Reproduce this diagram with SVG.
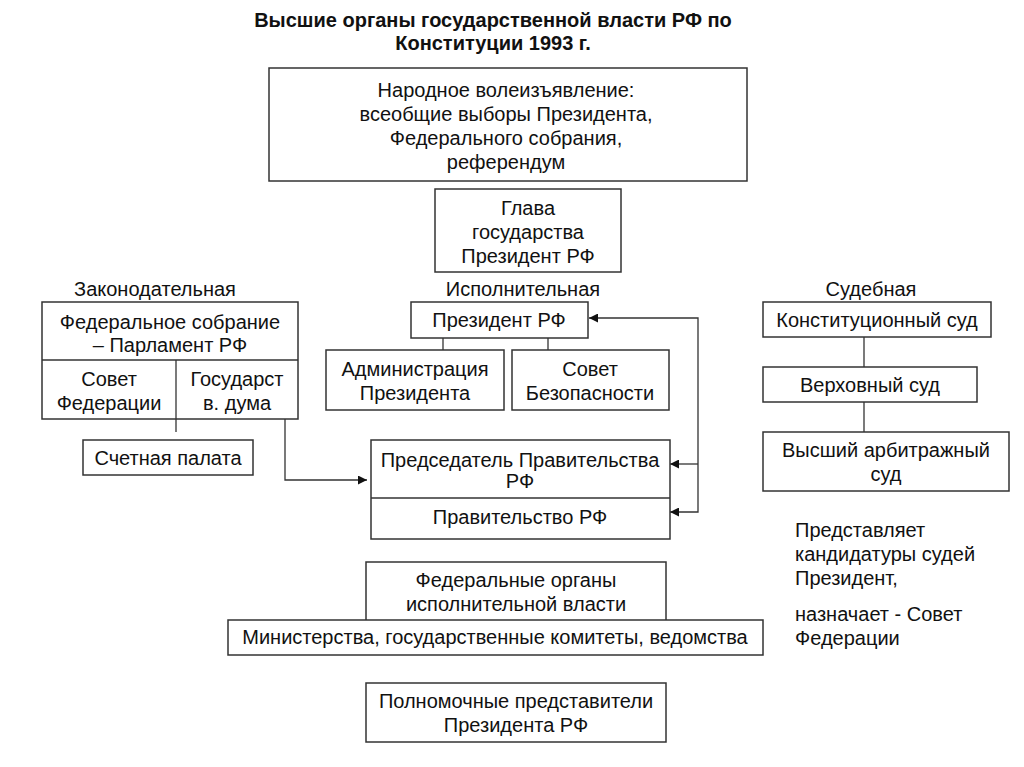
<svg xmlns="http://www.w3.org/2000/svg" width="1024" height="767" viewBox="0 0 1024 767">
<defs>
<style>
.b{fill:#fff;stroke:#333;stroke-width:1.5}
.t{font-family:"Liberation Sans",Arial,sans-serif;font-size:20px;fill:#111;text-anchor:middle}
.l{font-family:"Liberation Sans",Arial,sans-serif;font-size:20px;fill:#111}
.h{font-family:"Liberation Sans",Arial,sans-serif;font-size:20px;font-weight:bold;fill:#111;text-anchor:middle}
.c{fill:none;stroke:#333;stroke-width:1.3}
</style>
<marker id="a" viewBox="0 0 10 10" refX="10" refY="5" markerWidth="9" markerHeight="9" markerUnits="userSpaceOnUse" orient="auto"><path d="M0,0L10,5L0,10z" fill="#111"/></marker>
</defs>
<rect width="1024" height="767" fill="#fff"/>
<g id="title">
<text class="h" x="493" y="27">Высшие органы государственной власти РФ по</text>
<text class="h" x="493" y="50">Конституции 1993 г.</text>
</g>
<g id="connectors">
<line class="c" x1="176" y1="360" x2="176" y2="432"/>
<path class="c" d="M285,418V480H367" marker-end="url(#a)"/>
<line class="c" x1="443" y1="338" x2="443" y2="350"/>
<line class="c" x1="548" y1="338" x2="548" y2="350"/>
<path class="c" d="M698,464V318H589" marker-end="url(#a)"/>
<path class="c" d="M698,464H670" marker-end="url(#a)"/>
<path class="c" d="M698,464V512H670" marker-end="url(#a)"/>
<line class="c" x1="864" y1="337" x2="864" y2="367"/>
<line class="c" x1="864" y1="402" x2="864" y2="432"/>
</g>
<g id="vote">
<rect class="b" x="269" y="68" width="478" height="113"/>
<text class="t" x="506" y="97">Народное волеизъявление:</text>
<text class="t" x="506" y="121">всеобщие выборы Президента,</text>
<text class="t" x="506" y="145">Федерального собрания,</text>
<text class="t" x="506" y="169">референдум</text>
</g>
<g id="head">
<rect class="b" x="435" y="189" width="186" height="83"/>
<text class="t" x="528" y="215">Глава</text>
<text class="t" x="528" y="239">государства</text>
<text class="t" x="528" y="263">Президент РФ</text>
</g>
<g id="labels">
<text class="t" x="155" y="296">Законодательная</text>
<text class="t" x="523" y="296">Исполнительная</text>
<text class="t" x="871" y="296">Судебная</text>
</g>
<g id="parliament">
<rect class="b" x="42" y="302" width="256" height="117"/>
<line class="c" x1="42" y1="360" x2="298" y2="360"/>
<line class="c" x1="176" y1="360" x2="176" y2="419"/>
<text class="t" x="170" y="329">Федеральное собрание</text>
<text class="t" x="170" y="352">– Парламент РФ</text>
<text class="t" x="109" y="386">Совет</text>
<text class="t" x="109" y="410">Федерации</text>
<text class="t" x="237" y="386">Государст</text>
<text class="t" x="237" y="410">в. дума</text>
</g>
<g id="audit">
<rect class="b" x="83" y="440" width="170" height="35"/>
<text class="t" x="168" y="465">Счетная палата</text>
</g>
<g id="president">
<rect class="b" x="411" y="302" width="177" height="36"/>
<text class="t" x="499" y="327">Президент РФ</text>
</g>
<g id="admin">
<rect class="b" x="326" y="350" width="178" height="60"/>
<text class="t" x="415" y="376">Администрация</text>
<text class="t" x="415" y="400">Президента</text>
</g>
<g id="security">
<rect class="b" x="512" y="350" width="157" height="60"/>
<text class="t" x="590" y="376">Совет</text>
<text class="t" x="590" y="400">Безопасности</text>
</g>
<g id="government">
<rect class="b" x="371" y="440" width="299" height="99"/>
<line class="c" x1="371" y1="498" x2="670" y2="498"/>
<text class="t" x="520" y="467">Председатель Правительства</text>
<text class="t" x="520" y="488">РФ</text>
<text class="t" x="520" y="524">Правительство РФ</text>
</g>
<g id="constcourt">
<rect class="b" x="763" y="302" width="228" height="35"/>
<text class="t" x="877" y="327">Конституционный суд</text>
</g>
<g id="supreme">
<rect class="b" x="763" y="367" width="214" height="35"/>
<text class="t" x="870" y="392">Верховный суд</text>
</g>
<g id="arbitr">
<rect class="b" x="763" y="432" width="246" height="59"/>
<text class="t" x="886" y="457">Высший арбитражный</text>
<text class="t" x="886" y="481">суд</text>
</g>
<g id="note">
<text class="l" x="795" y="537">Представляет</text>
<text class="l" x="795" y="561">кандидатуры судей</text>
<text class="l" x="795" y="585">Президент,</text>
<text class="l" x="795" y="621">назначает - Совет</text>
<text class="l" x="795" y="645">Федерации</text>
</g>
<g id="fedorgans">
<rect class="b" x="366" y="562" width="300" height="59"/>
<text class="t" x="516" y="587">Федеральные органы</text>
<text class="t" x="516" y="611">исполнительной власти</text>
</g>
<g id="ministries">
<rect class="b" x="228" y="620" width="535" height="35"/>
<text class="t" x="495" y="644">Министерства, государственные комитеты, ведомства</text>
</g>
<g id="envoys">
<rect class="b" x="366" y="683" width="300" height="59"/>
<text class="t" x="516" y="708">Полномочные представители</text>
<text class="t" x="516" y="732">Президента РФ</text>
</g>
</svg>
